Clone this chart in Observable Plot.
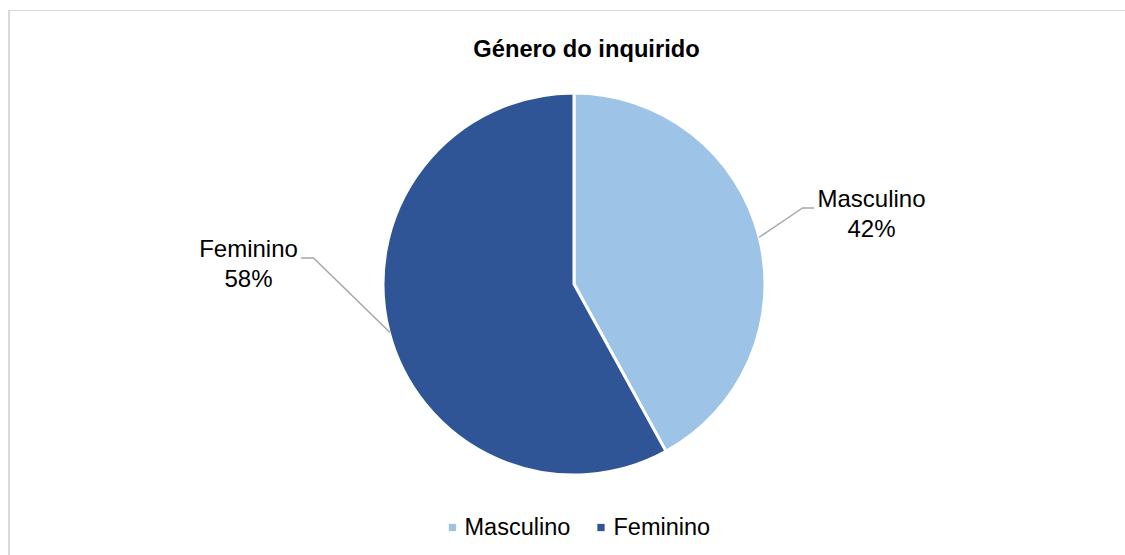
<!DOCTYPE html>
<html>
<head>
<meta charset="utf-8">
<script src="https://cdn.jsdelivr.net/npm/d3@7"></script>
<script src="https://cdn.jsdelivr.net/npm/@observablehq/plot@0.6"></script>
<style>
  html, body { margin: 0; padding: 0; background: #fff; }
  #wrap { position: relative; width: 1125px; height: 555px; overflow: hidden; background: #fff; }
  #border { position: absolute; left: 8px; top: 10px; width: 2000px; height: 2000px;
            border-top: 1px solid #d9d9d9; border-left: 2px solid #d9d9d9; box-sizing: border-box; }
  #chart { position: absolute; left: 0; top: 0; }
</style>
</head>
<body>
<div id="wrap"><div id="border"></div><div id="chart"></div></div>
<script>
// ---- data ----
const title = "Género do inquirido";
const categories = ["Masculino", "Feminino"];
const percentages = [42, 58];
const colors = ["#9dc3e6", "#2f5597"];

// ---- layout (pixels) ----
const W = 1125, H = 555;
const CX = 574, CY = 284, R = 191;           // pie centre & radius
const FONT = "'Liberation Sans', Arial, Helvetica, sans-serif";
// leader-line / label offsets relative to the slice's edge point (px, y down)
const labelLayout = {
  Masculino: { elbow: [43, -29], tail: 11,  text: [69, -9], dir: 1 },
  Feminino:  { elbow: [-76, -74], tail: -12, text: [-65, -9], dir: -1 }
};
const lineGap = 30;
const legendLayout = { y: 527, items: { Masculino: [452, 464], Feminino: [600.5, 613] } };
const titlePos = [586, 49];

// helpers: pixel -> data units (data centred on pie, y up)
const dx = px => px - CX;
const dy = py => CY - py;

const slices = categories.map((name, i) => ({ name, value: percentages[i] }));
const arcs = d3.pie().sort(null).value(d => d.value)(slices);

// edge points at mid angle
const edges = arcs.map(a => {
  const m = (a.startAngle + a.endAngle) / 2;
  return { name: a.data.name, value: a.data.value, ex: R * Math.sin(m), ey: R * Math.cos(m) };
});

const leaderPts = edges.flatMap(e => {
  const L = labelLayout[e.name];
  const exPx = e.ex, eyPx = e.ey;
  const elx = exPx + L.elbow[0], ely = eyPx - L.elbow[1];
  return [
    { name: e.name, x: exPx, y: eyPx },
    { name: e.name, x: elx, y: ely },
    { name: e.name, x: elx + L.tail, y: ely }
  ];
});

const labelRows = edges.flatMap(e => {
  const L = labelLayout[e.name];
  const tx = e.ex + L.elbow[0] + L.text[0];
  const ty = e.ey - L.elbow[1] - L.text[1];
  return [
    { text: e.name, x: tx, y: ty },
    { text: `${e.value}%`, x: tx, y: ty - lineGap }
  ];
});

const legendRows = categories.map(name => ({
  name,
  sx: dx(legendLayout.items[name][0]),
  tx: dx(legendLayout.items[name][1]),
  y: dy(legendLayout.y)
}));

function pieWedges(...args) {
  const s = args.find(a => a && typeof a === "object" && typeof a.x === "function" && typeof a.y === "function");
  const cx = s.x(0), cy = s.y(0), r = s.x(R) - s.x(0);
  const fillOf = typeof s.color === "function" ? s.color : (n => colors[categories.indexOf(n)]);
  const g = d3.create("svg:g").attr("transform", `translate(${cx},${cy})`);
  g.selectAll("path").data(arcs).join("path")
    .attr("d", d3.arc().innerRadius(0).outerRadius(r))
    .attr("fill", d => fillOf(d.data.name))
    .attr("stroke", "#ffffff")
    .attr("stroke-width", 3)
    .attr("stroke-linejoin", "round");
  return g.node();
}

const chart = Plot.plot({
  width: W,
  height: H,
  margin: 0,
  style: { background: "transparent", fontFamily: FONT, overflow: "visible" },
  x: { domain: [-R, R], range: [CX - R, CX + R], axis: null },
  y: { domain: [-R, R], range: [CY + R, CY - R], axis: null },
  color: { type: "ordinal", domain: categories, range: colors },
  marks: [
    pieWedges,
    Plot.line(leaderPts, { x: "x", y: "y", z: "name", stroke: "#a6a6a6", strokeWidth: 1.5 }),
    Plot.text(labelRows, { x: "x", y: "y", text: "text", fontSize: 24, fill: "#000000", fontFamily: FONT }),
    Plot.text([title], { x: () => dx(titlePos[0]), y: () => dy(titlePos[1]), text: d => d, fontSize: 23.7, fontWeight: "bold", fill: "#000000", fontFamily: FONT }),
    Plot.dot(legendRows, { x: "sx", y: "y", fill: "name", symbol: "square", r: 4.1, stroke: null }),
    Plot.text(legendRows, { x: "tx", y: "y", text: "name", textAnchor: "start", fontSize: 23.5, fill: "#000000", fontFamily: FONT })
  ]
});

document.getElementById("chart").appendChild(chart);
</script>
</body>
</html>
